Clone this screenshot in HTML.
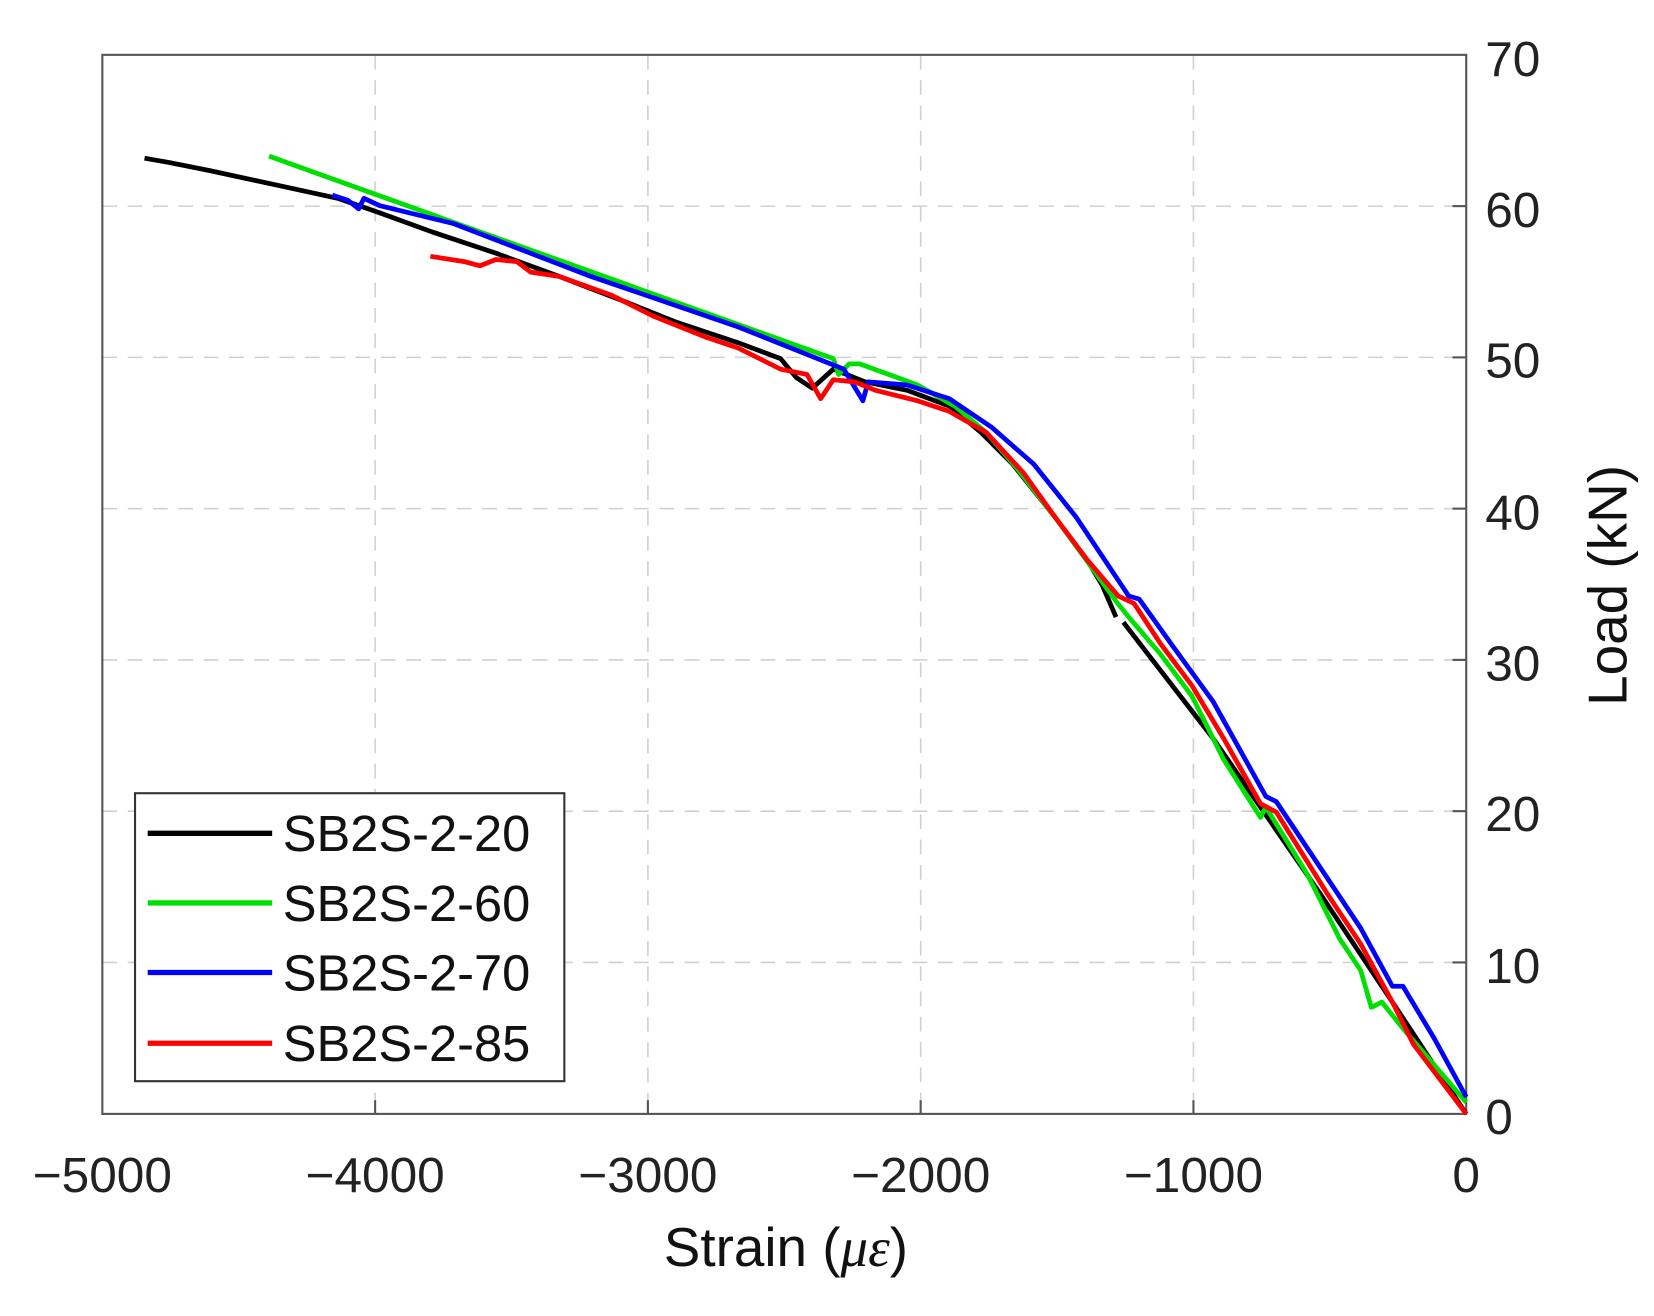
<!DOCTYPE html>
<html><head><style>html,body{margin:0;padding:0;background:#fff}svg{display:block}</style></head>
<body>
<svg width="1654" height="1316" viewBox="0 0 1568 1247.6" xmlns="http://www.w3.org/2000/svg" font-family="Liberation Sans, Arial, sans-serif">
<rect width="1568" height="1248" fill="#fff"/>
<g stroke="#d0d0d0" stroke-width="1.5" stroke-dasharray="14,10">
<line x1="355.6" y1="52" x2="355.6" y2="1056"/><line x1="614.2" y1="52" x2="614.2" y2="1056"/>
<line x1="872.8" y1="52" x2="872.8" y2="1056"/><line x1="1131.4" y1="52" x2="1131.4" y2="1056"/>
<line x1="97" y1="195.4" x2="1390" y2="195.4"/><line x1="97" y1="338.8" x2="1390" y2="338.8"/>
<line x1="97" y1="482.2" x2="1390" y2="482.2"/><line x1="97" y1="625.6" x2="1390" y2="625.6"/>
<line x1="97" y1="769" x2="1390" y2="769"/><line x1="97" y1="912.4" x2="1390" y2="912.4"/>
</g>
<rect x="97" y="52" width="1293" height="1004" fill="none" stroke="#555" stroke-width="2"/>
<g stroke="#555" stroke-width="2">
<line x1="355.6" y1="1056" x2="355.6" y2="1043"/><line x1="614.2" y1="1056" x2="614.2" y2="1043"/><line x1="872.8" y1="1056" x2="872.8" y2="1043"/><line x1="1131.4" y1="1056" x2="1131.4" y2="1043"/>
<line x1="1390" y1="195.4" x2="1377" y2="195.4"/><line x1="1390" y1="338.8" x2="1377" y2="338.8"/><line x1="1390" y1="482.2" x2="1377" y2="482.2"/><line x1="1390" y1="625.6" x2="1377" y2="625.6"/><line x1="1390" y1="769" x2="1377" y2="769"/><line x1="1390" y1="912.4" x2="1377" y2="912.4"/>
</g>
<g fill="none" stroke-width="4.5" stroke-linejoin="round">
<polyline stroke="#000" points="137,150 160,154 200,162 260,175 320,188 355,200 410,220 470,240 530,262 590,285 640,305 700,325 740,340 755,358 770,368 790,350 820,362 860,370 900,385 930,410 960,440 1000,490 1030,530 1045,555 1058,585"/>
<polyline stroke="#000" points="1065,590 1150,700 1250,845 1320,950 1390,1056"/>
<polyline stroke="#00e000" points="255,148 790,340 795,355 805,345 815,345 870,365 905,385 935,410 965,445 1000,490 1040,545 1058,570 1070,585 1100,620 1130,660 1160,720 1195,775 1200,765 1240,830 1270,890 1290,920 1300,955 1310,950 1330,975 1390,1045"/>
<polyline stroke="#0000ff" points="315,185 330,190 340,198 345,188 360,195 430,212 560,262 700,310 800,350 818,380 823,362 860,365 900,378 940,405 980,440 1020,490 1050,535 1070,565 1080,568 1110,610 1150,665 1200,755 1210,760 1240,805 1290,880 1320,935 1330,935 1360,985 1390,1040"/>
<polyline stroke="#ff0000" points="408,243 440,248 455,252 470,246 490,248 503,258 530,262 580,280 620,300 670,320 700,330 740,350 765,355 778,378 790,360 810,362 830,370 870,380 900,390 935,410 970,448 1000,490 1030,530 1060,565 1075,572 1100,610 1130,650 1160,700 1195,762 1210,770 1260,850 1290,895 1320,950 1340,990 1390,1056"/>
</g>
<g font-size="47" fill="#222" text-anchor="middle">
<text x="97" y="1130">−5000</text><text x="355.6" y="1130">−4000</text><text x="614.2" y="1130">−3000</text><text x="872.8" y="1130">−2000</text><text x="1131.4" y="1130">−1000</text><text x="1390" y="1130">0</text>
</g>
<g font-size="47" fill="#222" text-anchor="start">
<text x="1408" y="72">70</text><text x="1408" y="215">60</text><text x="1408" y="358">50</text><text x="1408" y="502">40</text><text x="1408" y="645">30</text><text x="1408" y="788">20</text><text x="1408" y="932">10</text><text x="1408" y="1075">0</text>
</g>
<text x="745" y="1200" font-size="52" text-anchor="middle" fill="#111">Strain (<tspan font-family="Liberation Serif, serif" font-style="italic">με</tspan>)</text>
<text transform="translate(1542,555) rotate(-90)" font-size="52" text-anchor="middle" fill="#111">Load (kN)</text>
<rect x="128" y="752" width="407" height="273" fill="#fff" stroke="#333" stroke-width="2"/>
<g stroke-width="5">
<line x1="140" y1="790" x2="258" y2="790" stroke="#000"/>
<line x1="140" y1="856" x2="258" y2="856" stroke="#00e000"/>
<line x1="140" y1="922" x2="258" y2="922" stroke="#0000ff"/>
<line x1="140" y1="989" x2="258" y2="989" stroke="#ff0000"/>
</g>
<g font-size="48" fill="#111">
<text x="268" y="807">SB2S-2-20</text><text x="268" y="873">SB2S-2-60</text><text x="268" y="939">SB2S-2-70</text><text x="268" y="1006">SB2S-2-85</text>
</g>
</svg>
</body></html>
